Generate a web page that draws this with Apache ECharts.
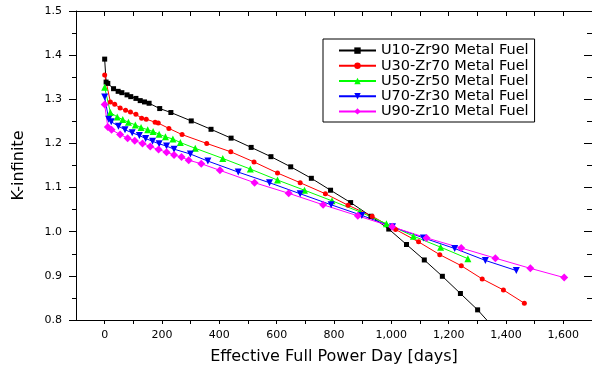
<!DOCTYPE html>
<html>
<head>
<meta charset="utf-8">
<script src="https://cdn.jsdelivr.net/npm/echarts@6/dist/echarts.min.js"></script>
<style>
html,body{margin:0;padding:0;background:#fff;}
#chart{width:592px;height:370px;}
</style>
</head>
<body>
<div id="chart"></div>
<script>
// ---- data ----
const seriesNames = [
  'U10-Zr90 Metal Fuel',
  'U30-Zr70 Metal Fuel',
  'U50-Zr50 Metal Fuel',
  'U70-Zr30 Metal Fuel',
  'U90-Zr10 Metal Fuel'
];

const u10Days = [0, 5, 11, 31, 47, 60, 78, 91, 109, 124, 139, 155, 192, 231, 302, 371, 441, 511, 580, 649, 721, 788, 858, 929, 991, 1053, 1115, 1178, 1241, 1301, 1362];
const u10K    = [1.391, 1.339, 1.336, 1.324, 1.318, 1.315, 1.310, 1.306, 1.302, 1.297, 1.294, 1.291, 1.279, 1.270, 1.251, 1.232, 1.212, 1.191, 1.170, 1.147, 1.121, 1.094, 1.066, 1.035, 1.006, 0.971, 0.936, 0.899, 0.860, 0.823, 0.779];

const u30Days = [0, 20, 35, 54, 73, 90, 109, 129, 145, 176, 187, 224, 270, 356, 440, 521, 603, 682, 770, 849, 933, 1015, 1095, 1169, 1244, 1317, 1391, 1464];
const u30K    = [1.355, 1.294, 1.289, 1.280, 1.275, 1.271, 1.266, 1.257, 1.255, 1.248, 1.246, 1.234, 1.220, 1.200, 1.181, 1.158, 1.133, 1.111, 1.086, 1.060, 1.035, 1.005, 0.977, 0.948, 0.923, 0.893, 0.868, 0.838];

const u50Days = [0, 20, 44, 63, 83, 107, 127, 150, 169, 190, 212, 238, 264, 316, 412, 508, 603, 697, 793, 890, 983, 1077, 1172, 1267];
const u50K    = [1.327, 1.270, 1.260, 1.254, 1.248, 1.242, 1.236, 1.231, 1.227, 1.221, 1.215, 1.210, 1.202, 1.189, 1.166, 1.142, 1.117, 1.094, 1.070, 1.045, 1.018, 0.990, 0.965, 0.939];

const u70Days = [0, 14, 23, 48, 71, 96, 121, 143, 167, 190, 216, 242, 299, 360, 466, 575, 682, 790, 897, 1004, 1112, 1221, 1328, 1436];
const u70K    = [1.305, 1.255, 1.249, 1.239, 1.231, 1.224, 1.218, 1.211, 1.205, 1.199, 1.194, 1.187, 1.176, 1.160, 1.135, 1.111, 1.086, 1.061, 1.037, 1.011, 0.986, 0.962, 0.935, 0.912];

const u90Days = [0, 11, 24, 54, 80, 105, 132, 159, 188, 216, 242, 268, 293, 337, 402, 523, 642, 762, 883, 1003, 1123, 1244, 1363, 1485, 1603];
const u90K    = [1.288, 1.237, 1.231, 1.220, 1.212, 1.206, 1.200, 1.193, 1.186, 1.180, 1.174, 1.169, 1.162, 1.154, 1.139, 1.111, 1.087, 1.061, 1.036, 1.011, 0.986, 0.963, 0.940, 0.917, 0.896];

const xLabelValues = [0, 200, 400, 600, 800, 1000, 1200, 1400, 1600];
const xTickValues = [0, 100, 200, 300, 400, 500, 600, 700, 800, 900, 1000, 1100, 1200, 1300, 1400, 1500, 1600];

const xTitle = 'Effective Full Power Day [days]';
const yTitle = 'K-infinite';

// ---- chart ----
function pairs(xs, ys) { return xs.map((x, i) => [x, ys[i]]); }

const FONT = 'DejaVu Sans';
const styles = [
  { color: '#000000', symbol: 'rect', size: 5, rotate: 0 },
  { color: '#ff0000', symbol: 'circle', size: 5, rotate: 0 },
  { color: '#00ff00', symbol: 'triangle', size: 7, rotate: 0 },
  { color: '#0000ff', symbol: 'triangle', size: 7, rotate: 180 },
  { color: '#ff00ff', symbol: 'diamond', size: 8, rotate: 0 }
];
const dataSets = [
  pairs(u10Days, u10K),
  pairs(u30Days, u30K),
  pairs(u50Days, u50K),
  pairs(u70Days, u70K),
  pairs(u90Days, u90K)
];

const axisLineStyle = { color: '#000', width: 1 };

const chart = echarts.init(document.getElementById('chart'), null, { renderer: 'canvas' });
chart.setOption({
  animation: false,
  backgroundColor: '#ffffff',
  grid: { left: 76, top: 11, right: -6, bottom: 49, containLabel: false },
  legend: {
    orient: 'vertical',
    left: 323,
    top: 39,
    padding: [4, 6, 3, 15],
    itemGap: 0,
    itemWidth: 37,
    itemHeight: 8,
    borderColor: '#000',
    borderWidth: 1,
    textStyle: { fontFamily: FONT, fontSize: 14.5, color: '#000', lineHeight: 15.2 },
    data: seriesNames
  },
  xAxis: [
    {
      type: 'value', position: 'bottom', min: -100, max: 1700,
      name: xTitle, nameLocation: 'middle', nameGap: 29,
      nameTextStyle: { fontFamily: FONT, fontSize: 16, color: '#000' },
      axisLine: { show: true, onZero: false, lineStyle: axisLineStyle },
      axisTick: { show: true, inside: false, length: 4, customValues: xTickValues, lineStyle: axisLineStyle },
      axisLabel: {
        show: true, margin: 10, customValues: xLabelValues,
        fontFamily: FONT, fontSize: 11, color: '#000',
        formatter: v => Number(v).toLocaleString('en-US')
      },
      splitLine: { show: false }
    },
    {
      type: 'value', position: 'top', min: -100, max: 1700,
      axisLine: { show: true, onZero: false, lineStyle: axisLineStyle },
      axisTick: { show: true, inside: true, length: 5, customValues: xTickValues, lineStyle: axisLineStyle },
      axisLabel: { show: false },
      splitLine: { show: false }
    }
  ],
  yAxis: [
    {
      type: 'value', position: 'left', min: 0.8, max: 1.5, interval: 0.1,
      name: yTitle, nameLocation: 'middle', nameGap: 49,
      nameTextStyle: { fontFamily: FONT, fontSize: 16, color: '#000' },
      axisLine: { show: true, onZero: false, lineStyle: axisLineStyle },
      axisTick: { show: true, inside: false, length: 7, lineStyle: axisLineStyle },
      minorTick: { show: true, splitNumber: 2, length: 4, lineStyle: axisLineStyle },
      axisLabel: {
        show: true, margin: 14, fontFamily: FONT, fontSize: 11, color: '#000',
        formatter: v => Number(v).toFixed(1)
      },
      splitLine: { show: false }
    },
    {
      type: 'value', position: 'right', min: 0.8, max: 1.5, interval: 0.1,
      axisLine: { show: true, onZero: false, lineStyle: axisLineStyle },
      axisTick: { show: true, inside: true, length: 8, lineStyle: axisLineStyle },
      minorTick: { show: true, splitNumber: 2, length: 5, lineStyle: axisLineStyle },
      axisLabel: { show: false },
      splitLine: { show: false }
    }
  ],
  series: seriesNames.map((name, i) => ({
    name: name,
    type: 'line',
    xAxisIndex: 0,
    yAxisIndex: 0,
    data: dataSets[i],
    clip: true,
    symbol: styles[i].symbol,
    symbolSize: styles[i].size,
    symbolRotate: styles[i].rotate,
    showAllSymbol: true,
    lineStyle: { color: styles[i].color, width: 1 },
    itemStyle: { color: styles[i].color, borderWidth: 0 },
    emphasis: { disabled: true }
  }))
});
</script>
</body>
</html>
